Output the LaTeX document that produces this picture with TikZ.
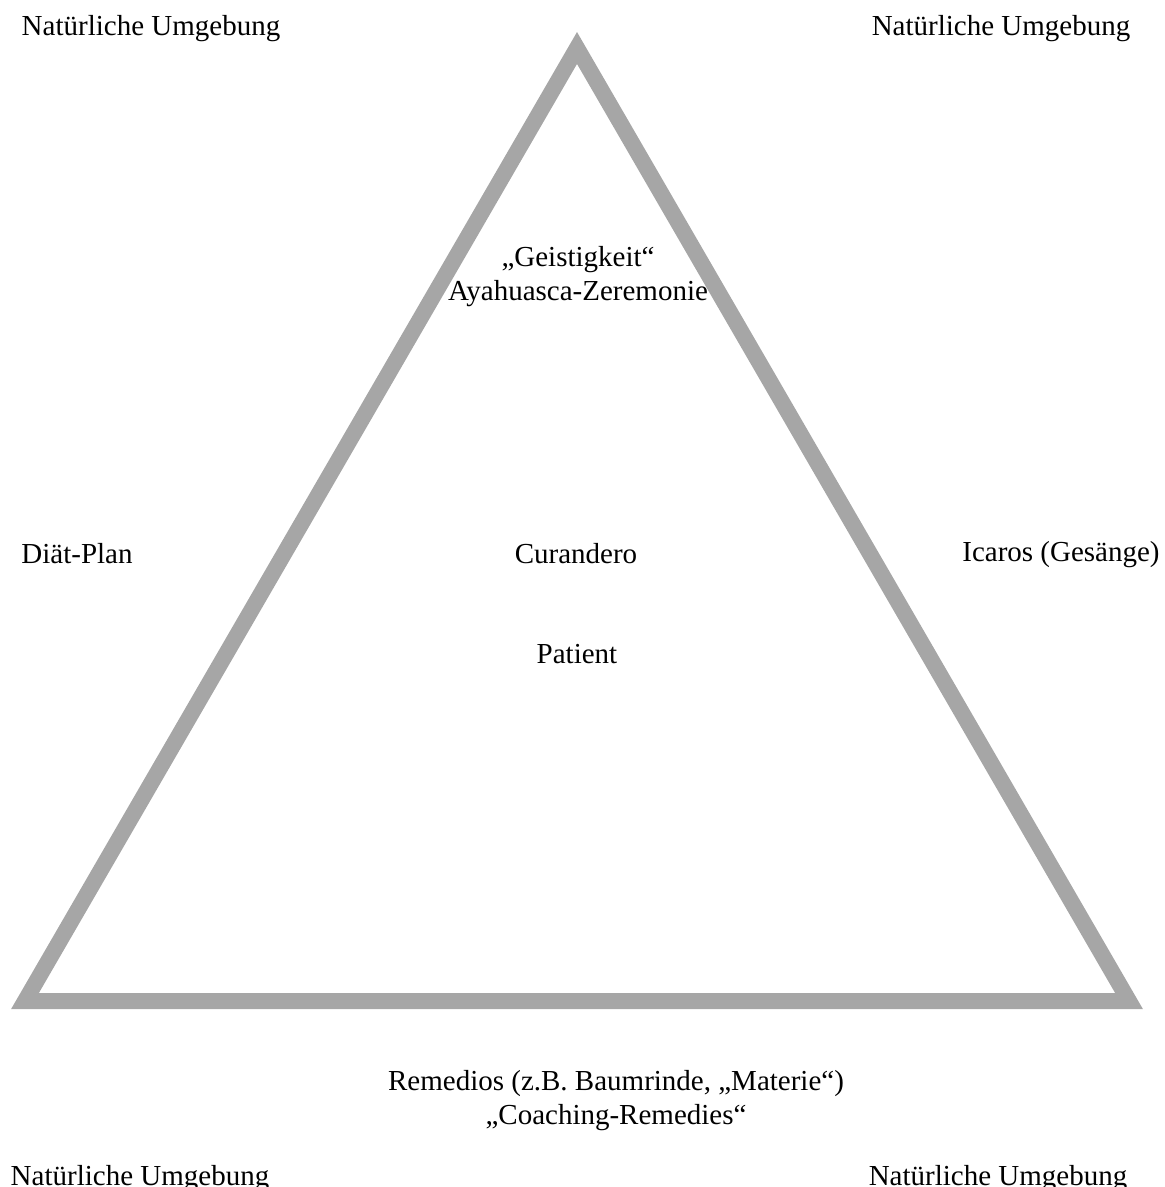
\documentclass[tikz,border=0pt]{standalone}
\usepackage{fontspec}
\setmainfont{Liberation Serif}
\usepackage{tikz}

\tikzset{
  schrift/.style={font=\fontsize{14.5}{17}\selectfont, inner sep=0pt, align=center},
  dreieck/.style={draw=black!35, line width=8pt, line join=miter, miter limit=10}
}

\begin{document}
\begin{tikzpicture}[x=0.5pt, y=-0.5pt]
  \useasboundingbox (0,0) rectangle (1164,1187);
  % triangle corners
  \coordinate (spitze) at (577,48);
  \coordinate (links) at (25,1001);
  \coordinate (rechts) at (1129,1001);
  \draw[dreieck] (spitze) -- (links) -- (rechts) -- cycle;

  % surroundings in the four corners
  \foreach \x/\y/\n in {151/29/ol, 1001/29/or, 140/1179/ul, 998/1179/ur}
  {
    \node[schrift] (umgebung-\n) at (\x,\y) {Natürliche Umgebung};
  }

  \node[schrift] (geist) at (578,277) {„Geistigkeit“\\Ayahuasca-Zeremonie};
  \node[schrift] (diaet) at (77,554) {Diät-Plan};
  \node[schrift] (curandero) at (576,554) {Curandero};
  \node[schrift] (icaros) at (1061,555) {Icaros (Gesänge)};
  \node[schrift] (patient) at (577,654) {Patient};
  \node[schrift] (remedios) at (616,1101) {Remedios (z.B. Baumrinde, „Materie“)\\„Coaching-Remedies“};
\end{tikzpicture}
\end{document}
